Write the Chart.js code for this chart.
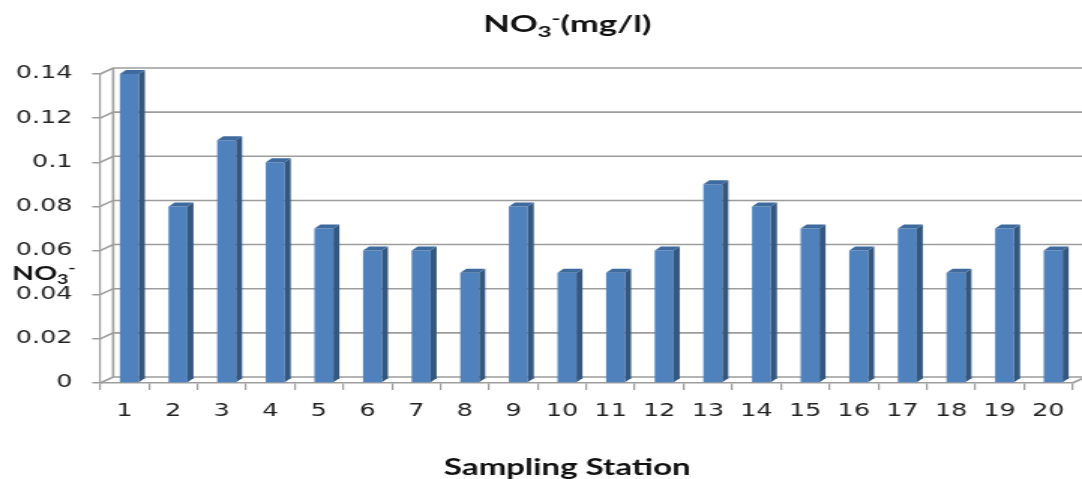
<!DOCTYPE html>
<html>
<head>
<meta charset="utf-8">
<script src="https://cdn.jsdelivr.net/npm/chart.js@4.4.0/dist/chart.umd.min.js"></script>
<style>
  html, body { margin: 0; padding: 0; background: #fff; overflow: hidden; }
  #no3Chart { display: block; }
</style>
</head>
<body>
<!-- the reference is a horizontally stretched picture, so the canvas is too -->
<canvas id="no3Chart" width="721" height="479" style="width:1082px;height:479px"></canvas>
<script>
const stations = ["1", "2", "3", "4", "5", "6", "7", "8", "9", "10",
                  "11", "12", "13", "14", "15", "16", "17", "18", "19", "20"];
const no3Values = [0.14, 0.08, 0.11, 0.10, 0.07, 0.06, 0.06, 0.05, 0.08, 0.05,
                   0.05, 0.06, 0.09, 0.08, 0.07, 0.06, 0.07, 0.05, 0.07, 0.06];
const yTicks = [0, 0.02, 0.04, 0.06, 0.08, 0.1, 0.12, 0.14];

const gridColor = "#9d9d9d";
const textColor = "#222";
const wallDx = 8.7, wallDy = -6;   // back wall offset
const depthX = 4, depthY = -4;     // bar depth
const barShift = 3.3;

// back wall, side wall and floor lines
const wallPlugin = {
  id: "wall",
  beforeDatasetsDraw(chart) {
    const ctx = chart.ctx;
    const area = chart.chartArea;
    const y = chart.scales.y;
    ctx.save();
    ctx.strokeStyle = gridColor;
    ctx.lineWidth = 1.6;
    yTicks.forEach(v => {
      const py = y.getPixelForValue(v);
      ctx.beginPath();
      ctx.moveTo(area.left, py);
      ctx.lineTo(area.left + wallDx, py + wallDy);
      ctx.lineTo(area.right + wallDx, py + wallDy);
      ctx.stroke();
    });
    ctx.beginPath();
    ctx.moveTo(area.left + wallDx, area.top + wallDy);
    ctx.lineTo(area.left + wallDx, area.bottom + wallDy);
    ctx.moveTo(area.right, area.bottom);
    ctx.lineTo(area.right + wallDx, area.bottom + wallDy);
    ctx.stroke();
    ctx.restore();

    ctx.save();
    ctx.translate(barShift, 0);
  },
  afterDatasetsDraw(chart) {
    const ctx = chart.ctx;
    const meta = chart.getDatasetMeta(0);
    meta.data.forEach(bar => {
      const l = bar.x - bar.width / 2;
      const r = bar.x + bar.width / 2;
      // side
      ctx.fillStyle = "#34577f";
      ctx.beginPath();
      ctx.moveTo(r, bar.y);
      ctx.lineTo(r + depthX, bar.y + depthY);
      ctx.lineTo(r + depthX, bar.base + depthY);
      ctx.lineTo(r, bar.base);
      ctx.closePath();
      ctx.fill();
      // top
      ctx.fillStyle = "#3f6a9e";
      ctx.beginPath();
      ctx.moveTo(l, bar.y);
      ctx.lineTo(l + depthX, bar.y + depthY);
      ctx.lineTo(r + depthX, bar.y + depthY);
      ctx.lineTo(r, bar.y);
      ctx.closePath();
      ctx.fill();
    });
    ctx.restore();
  }
};

// draws text pieces: [text, size, raise]
function drawRich(ctx, parts, x, y, align) {
  let total = 0;
  parts.forEach(p => {
    ctx.font = "bold " + p[1] + "px Lato, 'Open Sans', sans-serif";
    total += ctx.measureText(p[0]).width;
  });
  let cx = align === "center" ? x - total / 2 : x;
  parts.forEach(p => {
    ctx.font = "bold " + p[1] + "px Lato, 'Open Sans', sans-serif";
    ctx.fillText(p[0], cx, y + p[2]);
    cx += ctx.measureText(p[0]).width;
  });
}

const titlesPlugin = {
  id: "titles",
  afterDraw(chart) {
    const ctx = chart.ctx;
    ctx.save();
    ctx.fillStyle = "#111";
    ctx.textAlign = "left";
    ctx.textBaseline = "alphabetic";
    drawRich(ctx, [["NO", 23, 0], ["3", 16, 5], ["-", 16, -8], ["(mg/l)", 23, 0]], 378, 32, "center");
    drawRich(ctx, [["NO", 19, 0], ["3", 13, 4], ["-", 13, -7]], 8, 280, "left");
    drawRich(ctx, [["Sampling Station", 22, 0]], 378, 475, "center");
    ctx.restore();
  }
};

new Chart(document.getElementById("no3Chart"), {
  type: "bar",
  data: {
    labels: stations,
    datasets: [{
      label: "NO3-",
      data: no3Values,
      backgroundColor: "#4f81bd",
      borderWidth: 0,
      barPercentage: 0.39,
      categoryPercentage: 1
    }]
  },
  options: {
    responsive: false,
    animation: false,
    layout: { padding: { top: 74, right: 6.3, left: 0, bottom: 0 } },
    plugins: {
      legend: { display: false },
      title: { display: false },
      tooltip: { enabled: false }
    },
    scales: {
      x: {
        afterFit(scale) { scale.height = 96; },
        grid: { drawOnChartArea: false, drawTicks: true, tickLength: 7, color: gridColor, lineWidth: 1.2 },
        border: { display: true, color: gridColor, width: 1.6 },
        ticks: {
          color: textColor,
          padding: 11,
          maxRotation: 0,
          font: { family: "'DejaVu Sans', Verdana, sans-serif", size: 17 }
        }
      },
      y: {
        min: 0,
        max: 0.14,
        afterFit(scale) { scale.width = 66.7; },
        afterBuildTicks(scale) { scale.ticks = yTicks.map(v => ({ value: v })); },
        grid: { drawOnChartArea: false, drawTicks: true, tickLength: 5.3, color: gridColor, lineWidth: 1.5 },
        border: { display: true, color: gridColor, width: 1.2 },
        ticks: {
          color: textColor,
          padding: 13,
          callback: v => String(+v.toFixed(2)),
          font: { family: "'DejaVu Sans', Verdana, sans-serif", size: 17 }
        }
      }
    }
  },
  plugins: [wallPlugin, titlesPlugin]
});
</script>
</body>
</html>
